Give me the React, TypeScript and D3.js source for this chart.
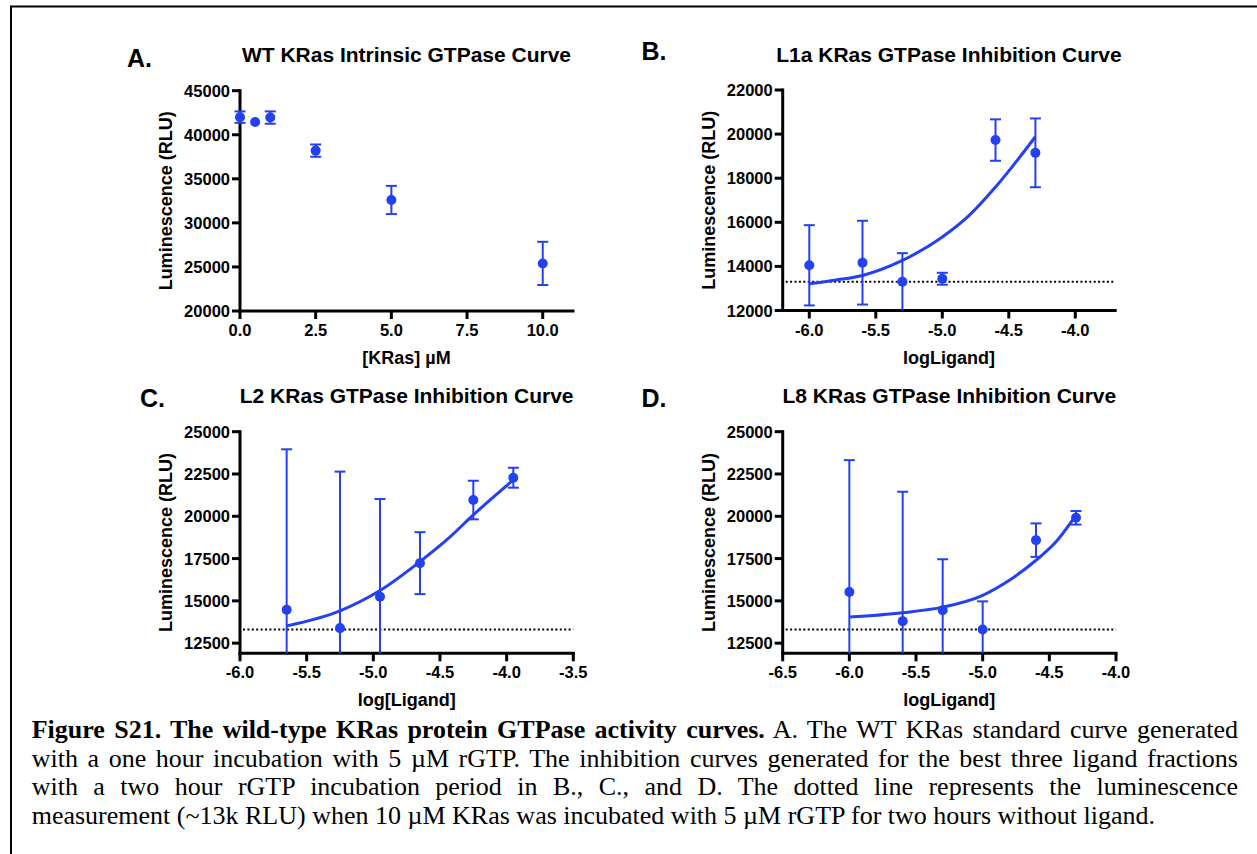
import React, { useEffect, useRef } from "react";
import * as d3 from "d3";

const BLUE = "#2340f2";

// ---------- Panel A: WT KRas intrinsic GTPase ----------
const krasA = [0, 0.5, 1, 2.5, 5, 10];
const lumA = [42000, 41450, 41950, 38200, 32600, 25400];
const errA = [650, 0, 700, 700, 1600, 2450];
const ticksXA = [0, 2.5, 5, 7.5, 10];
const ticksYA = [20000, 25000, 30000, 35000, 40000, 45000];

// ---------- Panel B: L1a ----------
const logB = [-6.0, -5.6, -5.3, -5.0, -4.6, -4.3];
const lumB = [14050, 14170, 13300, 13440, 19730, 19150];
const errB = [1820, 1900, 1300, 270, 940, 1560];
const fitXB = [-6.0, -5.8, -5.6, -5.3, -5.0, -4.8, -4.6, -4.3];
const fitYB = [13210, 13380, 13590, 14270, 15330, 16300, 17600, 19880];
const ticksXB = [-6.0, -5.5, -5.0, -4.5, -4.0];
const ticksYB = [12000, 14000, 16000, 18000, 20000, 22000];

// ---------- Panel C: L2 ----------
const logC = [-5.65, -5.25, -4.95, -4.65, -4.25, -3.95];
const lumC = [14470, 13390, 15250, 17230, 20960, 22280];
const errC = [9490, 9250, 5770, 1830, 1140, 590];
const fitXC = [-5.65, -5.25, -4.95, -4.65, -4.45, -4.25, -3.95];
const fitYC = [13520, 14410, 15610, 17320, 18600, 20080, 22150];
const ticksXC = [-6.0, -5.5, -5.0, -4.5, -4.0, -3.5];
const ticksYC = [12500, 15000, 17500, 20000, 22500, 25000];

// ---------- Panel D: L8 ----------
const logD = [-6.0, -5.6, -5.3, -5.0, -4.6, -4.3];
const lumD = [15520, 13800, 14440, 13310, 18590, 19910];
const errD = [7800, 7650, 3020, 1660, 990, 400];
const fitXD = [-6.0, -5.6, -5.3, -5.0, -4.8, -4.6, -4.45, -4.3];
const fitYD = [14040, 14300, 14630, 15330, 16220, 17400, 18490, 20070];
const ticksXD = [-6.5, -6.0, -5.5, -5.0, -4.5, -4.0];
const ticksYD = [12500, 15000, 17500, 20000, 22500, 25000];

// no-ligand luminescence (~13k RLU), dotted reference line
const noLigandRLU = 13300;

const captionBold = "Figure S21. The wild-type KRas protein GTPase activity curves.";
const captionLines = [
  " A. The WT KRas standard curve generated",
  "with a one hour incubation with 5 µM rGTP. The inhibition curves generated for the best three ligand fractions",
  "with a two hour rGTP incubation period in B., C., and D. The dotted line represents the luminescence",
  "measurement (~13k RLU) when 10 µM KRas was incubated with 5 µM rGTP for two hours without ligand.",
];

type Panel = {
  letter: string;
  title: string;
  xLabel: string;
  xs: number[];
  ys: number[];
  errs: number[];
  fitX?: number[];
  fitY?: number[];
  dotted?: boolean;
  xTicks: number[];
  yTicks: number[];
  xDomain: [number, number];
  yDomain: [number, number];
  left: number;
  top: number;
  width: number;
  height: number;
  letterX: number;
  letterY: number;
  titleY: number;
  labelDy: number;
};

const panels: Panel[] = [
  {
    letter: "A.", title: "WT KRas Intrinsic GTPase Curve", xLabel: "[KRas] µM",
    xs: krasA, ys: lumA, errs: errA, xTicks: ticksXA, yTicks: ticksYA,
    xDomain: [0, 11], yDomain: [20000, 45000],
    left: 240, top: 90.7, width: 333, height: 220.3, letterX: 127, letterY: 66.5, titleY: 61.7, labelDy: 53,
  },
  {
    letter: "B.", title: "L1a KRas GTPase Inhibition Curve", xLabel: "logLigand]",
    xs: logB, ys: lumB, errs: errB, fitX: fitXB, fitY: fitYB, dotted: true,
    xTicks: ticksXB, yTicks: ticksYB, xDomain: [-6.2, -3.7], yDomain: [12000, 22000],
    left: 782.7, top: 90, width: 332.5, height: 220.5, letterX: 641.5, letterY: 60, titleY: 61.7, labelDy: 53,
  },
  {
    letter: "C.", title: "L2 KRas GTPase Inhibition Curve", xLabel: "log[Ligand]",
    xs: logC, ys: lumC, errs: errC, fitX: fitXC, fitY: fitYC, dotted: true,
    xTicks: ticksXC, yTicks: ticksYC, xDomain: [-6.0, -3.5], yDomain: [11900, 25000],
    left: 240, top: 431.7, width: 333.3, height: 221.6, letterX: 140, letterY: 406.5, titleY: 403.3, labelDy: 53,
  },
  {
    letter: "D.", title: "L8 KRas GTPase Inhibition Curve", xLabel: "logLigand]",
    xs: logD, ys: lumD, errs: errD, fitX: fitXD, fitY: fitYD, dotted: true,
    xTicks: ticksXD, yTicks: ticksYD, xDomain: [-6.5, -4.0], yDomain: [11900, 25000],
    left: 782.7, top: 431.7, width: 333.3, height: 221.6, letterX: 641.5, letterY: 406.5, titleY: 403.3, labelDy: 53,
  },
];

const SANS = "'Liberation Sans', Arial, Helvetica, sans-serif";
const SERIF = "'Liberation Serif', 'Times New Roman', serif";

function drawPanel(svg: d3.Selection<SVGSVGElement, unknown, null, undefined>, p: Panel) {
  const x = d3.scaleLinear().domain(p.xDomain).range([p.left, p.left + p.width]);
  const y = d3.scaleLinear().domain(p.yDomain).range([p.top + p.height, p.top]);
  const bottom = p.top + p.height;
  const g = svg.append("g").attr("font-family", SANS).attr("font-weight", "bold").attr("fill", "#000");

  g.append("text").attr("x", p.letterX).attr("y", p.letterY).attr("font-size", 25).text(p.letter);
  g.append("text")
    .attr("x", p.left + p.width / 2)
    .attr("y", p.titleY)
    .attr("text-anchor", "middle")
    .attr("font-size", 21)
    .text(p.title);

  // axes
  const ax = g.append("g").attr("stroke", "#000").attr("stroke-width", 3).attr("stroke-linecap", "square");
  ax.append("line").attr("x1", p.left).attr("x2", p.left).attr("y1", p.top).attr("y2", bottom);
  ax.append("line").attr("x1", p.left).attr("x2", p.left + p.width).attr("y1", bottom).attr("y2", bottom);
  ax.selectAll("line.yt")
    .data(p.yTicks)
    .join("line")
    .attr("class", "yt")
    .attr("stroke-linecap", "butt")
    .attr("x1", p.left - 8)
    .attr("x2", p.left)
    .attr("y1", (d) => y(d))
    .attr("y2", (d) => y(d));
  ax.selectAll("line.xt")
    .data(p.xTicks)
    .join("line")
    .attr("class", "xt")
    .attr("stroke-linecap", "butt")
    .attr("x1", (d) => x(d))
    .attr("x2", (d) => x(d))
    .attr("y1", bottom)
    .attr("y2", bottom + 8);

  g.selectAll("text.yl")
    .data(p.yTicks)
    .join("text")
    .attr("class", "yl")
    .attr("x", p.left - 10)
    .attr("y", (d) => y(d) + 6)
    .attr("text-anchor", "end")
    .attr("font-size", 16.5)
    .text((d) => String(d));
  g.selectAll("text.xl")
    .data(p.xTicks)
    .join("text")
    .attr("class", "xl")
    .attr("x", (d) => x(d))
    .attr("y", bottom + 25)
    .attr("text-anchor", "middle")
    .attr("font-size", 16.5)
    .text((d) => d.toFixed(1));

  g.append("text")
    .attr("transform", `translate(${p.left - 68},${p.top + p.height / 2}) rotate(-90)`)
    .attr("text-anchor", "middle")
    .attr("font-size", 18)
    .text("Luminescence (RLU)");
  g.append("text")
    .attr("x", p.left + p.width / 2)
    .attr("y", bottom + p.labelDy)
    .attr("text-anchor", "middle")
    .attr("font-size", 18)
    .text(p.xLabel);

  // dotted no-ligand line
  if (p.dotted) {
    svg
      .append("line")
      .attr("x1", p.left + 3)
      .attr("x2", p.left + p.width)
      .attr("y1", y(noLigandRLU))
      .attr("y2", y(noLigandRLU))
      .attr("stroke", "#000")
      .attr("stroke-width", 2)
      .attr("stroke-dasharray", "2 2.4");
  }

  // fitted curve
  if (p.fitX && p.fitY) {
    const pts = p.fitX.map((v, i) => [v, p.fitY![i]] as [number, number]);
    const line = d3
      .line<[number, number]>()
      .x((d) => x(d[0]))
      .y((d) => y(d[1]))
      .curve(d3.curveMonotoneX);
    svg
      .append("path")
      .attr("d", line(pts) || "")
      .attr("fill", "none")
      .attr("stroke", BLUE)
      .attr("stroke-width", 3);
  }

  // error bars
  const eb = svg.append("g").attr("stroke", BLUE).attr("stroke-width", 2).attr("fill", "none");
  p.xs.forEach((xv, i) => {
    const v = p.ys[i];
    const e = p.errs[i];
    if (e <= 0) return;
    const hi = Math.min(v + e, p.yDomain[1]);
    const lo = Math.max(v - e, p.yDomain[0]);
    const cx = x(xv);
    eb.append("line").attr("x1", cx).attr("x2", cx).attr("y1", y(hi)).attr("y2", y(lo));
    if (v + e <= p.yDomain[1])
      eb.append("line").attr("x1", cx - 5.5).attr("x2", cx + 5.5).attr("y1", y(hi)).attr("y2", y(hi));
    if (v - e > p.yDomain[0])
      eb.append("line").attr("x1", cx - 5.5).attr("x2", cx + 5.5).attr("y1", y(lo)).attr("y2", y(lo));
  });

  // points
  svg
    .append("g")
    .selectAll("circle")
    .data(p.xs)
    .join("circle")
    .attr("cx", (d) => x(d))
    .attr("cy", (_d, i) => y(p.ys[i]))
    .attr("r", 5)
    .attr("fill", BLUE);
}

export default function App() {
  const ref = useRef<SVGSVGElement>(null);
  useEffect(() => {
    if (!ref.current) return;
    const svg = d3.select(ref.current);
    svg.selectAll("*").remove();

    svg.append("rect").attr("x", 0).attr("y", 0).attr("width", 1257).attr("height", 854).attr("fill", "#fff");
    // frame
    svg.append("line").attr("x1", 11).attr("x2", 1257).attr("y1", 6.5).attr("y2", 6.5)
      .attr("stroke", "#000").attr("stroke-width", 2);
    svg.append("line").attr("x1", 11).attr("x2", 11).attr("y1", 5.5).attr("y2", 854)
      .attr("stroke", "#000").attr("stroke-width", 2);

    panels.forEach((p) => drawPanel(svg, p));

    // caption
    const capX = 31.7;
    const capRight = 1238;
    const baselines = [738, 766.6, 795.2, 823.8];
    const fs = 26;
    captionLines.forEach((ln, i) => {
      const t = svg
        .append("text")
        .attr("x", capX)
        .attr("y", baselines[i])
        .attr("font-family", SERIF)
        .attr("font-size", fs)
        .attr("fill", "#000")
        .attr("xml:space", "preserve");
      let full = ln;
      if (i === 0) {
        t.append("tspan").attr("font-weight", "bold").text(captionBold);
        t.append("tspan").text(ln);
        full = captionBold + ln;
      } else {
        t.text(ln);
      }
      if (i < captionLines.length - 1) {
        const node = t.node() as SVGTextElement;
        const w = node.getComputedTextLength();
        const spaces = (full.match(/ /g) || []).length;
        const extra = (capRight - capX - w) / spaces;
        t.attr("word-spacing", extra);
      }
    });
  }, []);

  return (
    <div style={{ position: "absolute", left: 0, top: 0 }}>
      <svg ref={ref} width={1257} height={854} style={{ display: "block" }} />
    </div>
  );
}
